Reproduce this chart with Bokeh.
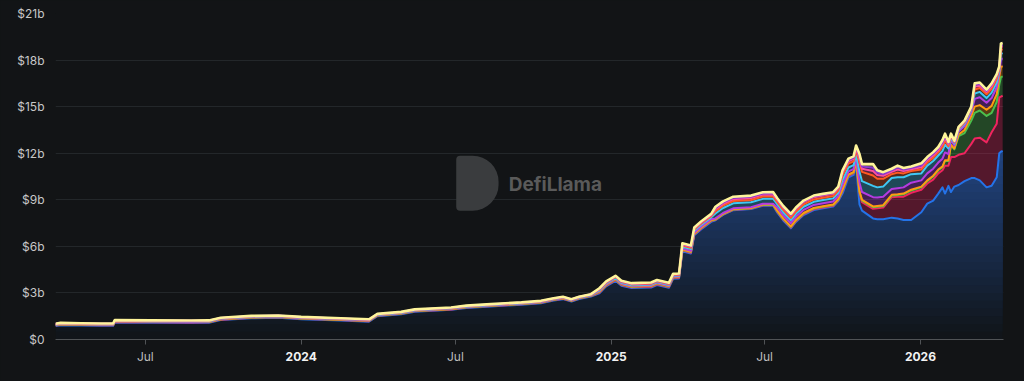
import numpy as np
import pandas as pd
from bokeh.plotting import figure
from bokeh.models import Range1d, FixedTicker, LinearAxis, Label, BoxAnnotation
from bokeh.embed import file_html
from bokeh.resources import INLINE

# ---------------- data (values in $ billions) ----------------
dates = [
    "2023-03-17", "2023-03-23", "2023-04-16", "2023-05-10", "2023-05-24", "2023-05-26", "2023-07-08",
    "2023-08-24", "2023-09-14", "2023-09-28", "2023-11-03", "2023-12-05", "2024-01-01", "2024-02-17",
    "2024-03-21", "2024-03-31", "2024-04-28", "2024-05-14", "2024-06-26", "2024-07-14", "2024-08-12",
    "2024-09-17", "2024-10-10", "2024-10-25", "2024-11-05", "2024-11-15", "2024-11-24", "2024-12-08",
    "2024-12-18", "2024-12-26", "2025-01-06", "2025-01-13", "2025-01-25", "2025-02-17", "2025-02-24",
    "2025-03-10", "2025-03-15", "2025-03-22", "2025-03-26", "2025-04-05", "2025-04-09", "2025-04-17",
    "2025-04-29", "2025-05-04", "2025-05-13", "2025-05-25", "2025-06-15", "2025-06-29", "2025-07-11",
    "2025-07-16", "2025-07-23", "2025-08-01", "2025-08-07", "2025-08-16", "2025-08-28", "2025-09-08",
    "2025-09-20", "2025-09-26", "2025-10-01", "2025-10-08", "2025-10-14", "2025-10-17", "2025-10-21",
    "2025-10-24", "2025-11-06", "2025-11-11", "2025-11-18", "2025-11-28", "2025-12-05", "2025-12-12",
    "2025-12-21", "2026-01-02", "2026-01-09", "2026-01-16", "2026-01-22", "2026-01-27", "2026-01-30",
    "2026-02-03", "2026-02-06", "2026-02-10", "2026-02-15", "2026-02-22", "2026-03-02", "2026-03-06",
    "2026-03-12", "2026-03-20", "2026-03-26", "2026-04-01", "2026-04-04", "2026-04-06", "2026-04-08",
]

s_blue = [
    0.87, 0.92, 0.90, 0.88, 0.88, 1.10, 1.08, 1.07, 1.08, 1.25, 1.37, 1.40, 1.31, 1.22,
    1.15, 1.50, 1.63, 1.79, 1.91, 2.03, 2.13, 2.24, 2.34, 2.51, 2.60, 2.45, 2.61, 2.77,
    2.98, 3.42, 3.78, 3.46, 3.31, 3.35, 3.51, 3.33, 3.91, 3.93, 5.69, 5.54, 6.71, 7.09,
    7.58, 7.68, 8.03, 8.33, 8.40, 8.62, 8.63, 8.17, 7.67, 7.16, 7.57, 8.02, 8.34, 8.45,
    8.56, 8.92, 9.40, 10.45, 10.60, 11.30, 8.70, 8.30, 7.80, 7.75, 7.75, 7.85, 7.80, 7.70,
    7.70, 8.20, 8.75, 8.95, 9.40, 9.80, 9.40, 9.90, 9.50, 9.85, 9.95, 10.20, 10.40, 10.40,
    10.25, 9.80, 9.90, 10.45, 12.00, 12.10, 12.15,
]
s_crimson = [0.03] * 28 + [0.05] * 10 + [0.05] * 5 + [0.03] * 6 + [0.05] * 9 + [
    0.15, 0.10, 0.10, 0.10, 0.70, 0.55, 0.62, 0.70, 0.75, 1.32, 1.40, 1.50, 1.75, 1.45,
    1.30, 1.35, 1.30, 1.10, 1.80, 1.30, 2.25, 1.90, 1.95, 1.80, 2.20, 2.55, 2.75, 2.90,
    3.45, 3.45, 3.60, 3.55, 3.55,
]
s_green = [0.02] * 28 + [0.04] * 10 + [0.04] * 5 + [0.02] * 6 + [0.05] * 9 + [
    0.08, 0.05, 0.05, 0.05, 0.10, 0.10, 0.10, 0.10, 0.10, 0.10, 0.10, 0.15, 0.15, 0.15,
    0.15, 0.20, 0.20, 0.20, 0.30, 0.30, 0.75, 0.50, 1.20, 1.30, 1.50, 1.65, 1.75, 1.70,
    1.25, 1.40, 0.80, 1.25, 1.25,
]
s_orange = [0.01] * 28 + [0.02] * 10 + [0.02] * 5 + [0.02] * 6 + [0.03] * 9 + [
    0.04, 0.03, 0.03, 0.03, 0.05, 0.05, 0.05, 0.05, 0.05, 0.05, 0.05, 0.05, 0.05, 0.05,
    0.05, 0.05, 0.05, 0.05, 0.05, 0.05, 0.05, 0.05, 0.10, 0.20, 0.30, 0.40, 0.35, 0.40,
    0.45, 0.50, 0.50, 0.66, 0.65,
]
s_purple = [0.02] * 28 + [0.04] * 10 + [0.06] * 5 + [0.05] * 6 + [0.20] * 9 + [
    0.30, 0.20, 0.20, 0.20, 0.55, 0.50, 0.60, 0.55, 0.55, 0.38, 0.40, 0.40, 0.45, 0.40,
    0.45, 0.45, 0.45, 0.50, 0.50, 0.40, 0.30, 0.20, 0.20, 0.25, 0.25, 0.50, 0.50, 0.45,
    0.50, 0.45, 0.25, 0.50, 0.50,
]
s_cyan = [0.02] * 28 + [0.04] * 10 + [0.12] * 5 + [0.32] * 6 + [0.20] * 9 + [
    0.30, 0.25, 0.25, 0.25, 0.70, 0.70, 0.73, 0.65, 0.65, 0.70, 0.70, 0.65, 0.55, 0.45,
    0.50, 0.50, 0.45, 0.50, 0.50, 0.35, 0.15, 0.12, 0.12, 0.15, 0.15, 0.35, 0.35, 0.30,
    0.35, 0.30, 0.15, 0.35, 0.35,
]
s_orangered = [0.02] * 28 + [0.05] * 10 + [0.08] * 5 + [0.15] * 6 + [0.15] * 9 + [
    0.30, 0.25, 0.25, 0.25, 0.60, 0.60, 0.66, 0.55, 0.50, 0.25, 0.30, 0.25, 0.20, 0.25,
    0.20, 0.20, 0.20, 0.25, 0.25, 0.15, 0.10, 0.07, 0.07, 0.08, 0.08, 0.25, 0.25, 0.25,
    0.25, 0.25, 0.12, 0.25, 0.25,
]
s_pink = [0.01] * 28 + [0.03] * 10 + [0.06] * 5 + [0.12] * 6 + [0.15] * 9 + [
    0.20, 0.15, 0.15, 0.15, 0.25, 0.20, 0.30, 0.25, 0.20, 0.15, 0.20, 0.15, 0.12, 0.15,
    0.15, 0.15, 0.15, 0.20, 0.20, 0.12, 0.06, 0.05, 0.05, 0.05, 0.05, 0.20, 0.15, 0.15,
    0.15, 0.15, 0.08, 0.18, 0.18,
]
s_violet = [0.01] * 28 + [0.02] * 10 + [0.04] * 5 + [0.08] * 6 + [0.05] * 9 + [
    0.07, 0.07, 0.07, 0.07, 0.15, 0.15, 0.20, 0.15, 0.10, 0.10, 0.12, 0.10, 0.08, 0.10,
    0.10, 0.10, 0.10, 0.10, 0.10, 0.07, 0.05, 0.03, 0.03, 0.03, 0.03, 0.10, 0.10, 0.07,
    0.10, 0.07, 0.05, 0.10, 0.10,
]
s_yellow = [0.01] * 28 + [0.03] * 10 + [0.04] * 5 + [0.08] * 6 + [0.05] * 9 + [
    0.06, 0.10, 0.10, 0.10, 0.15, 0.15, 0.24, 0.15, 0.13, 0.10, 0.13, 0.10, 0.10, 0.15,
    0.10, 0.12, 0.10, 0.15, 0.16, 0.08, 0.05, 0.03, 0.03, 0.04, 0.04, 0.10, 0.10, 0.08,
    0.10, 0.08, 0.05, 0.13, 0.12,
]

stack_series = [s_crimson, s_green, s_orange, s_purple, s_cyan, s_orangered, s_pink, s_violet, s_yellow]
stack_colors = ["#f0245f", "#4cbf4c", "#ff9a10", "#b43ce0", "#3fc8f4", "#ff5a22", "#ff4f9e", "#8a3ad0", "#fff59a"]

y_ticks = [0, 3, 6, 9, 12, 15, 18, 21]
y_tick_labels = ["$0", "$3b", "$6b", "$9b", "$12b", "$15b", "$18b", "$21b"]
x_tick_dates = ["2023-07-01", "2024-01-01", "2024-07-01", "2025-01-01", "2025-07-01", "2026-01-01"]
x_tick_labels = ["Jul", "2024", "Jul", "2025", "Jul", "2026"]
x_start, x_end = "2023-03-17", "2026-04-09"


def ms(d):
    return (pd.to_datetime(pd.Series(d)) - pd.Timestamp("1970-01-01")) // pd.Timedelta("1ms")


BG = "#121416"
xs = ms(dates).astype(float).values
tick_ms = [float(v) for v in ms(x_tick_dates)]
x0, x1 = [float(v) for v in ms([x_start, x_end])]

p = figure(width=1024, height=381, output_backend="svg", toolbar_location=None,
           x_range=Range1d(x0, x1), y_range=Range1d(0, 21),
           background_fill_color=BG, border_fill_color=BG,
           min_border_left=55, min_border_right=21, min_border_top=13, min_border_bottom=42)
p.outline_line_color = None
p.xgrid.visible = False
p.ygrid.ticker = FixedTicker(ticks=y_ticks)
p.ygrid.grid_line_color = "#23272a"
p.ygrid.grid_line_width = 1

# y axis
p.yaxis.ticker = FixedTicker(ticks=y_ticks)
p.yaxis.major_label_overrides = {t: l for t, l in zip(y_ticks, y_tick_labels)}
p.yaxis.axis_line_color = None
p.yaxis.major_tick_line_color = None
p.yaxis.minor_tick_line_color = None
p.yaxis.major_tick_out = 0
p.yaxis.major_tick_in = 0
p.yaxis.major_label_standoff = 11
p.yaxis.major_label_text_color = "#c8c8c8"
p.yaxis.major_label_text_font = "Inter"
p.yaxis.major_label_text_font_size = "12px"

# x axis: months (light) on main axis, years (bold) on a second axis
month_over = {}
year_over = {}
year_ticks = []
for t, l in zip(tick_ms, x_tick_labels):
    if l.isdigit():
        month_over[t] = " "
        year_over[t] = l
        year_ticks.append(t)
    else:
        month_over[t] = l
xa = p.xaxis[0]
xa.ticker = FixedTicker(ticks=tick_ms)
xa.major_label_overrides = month_over
xa.axis_line_color = "#505356"
xa.major_tick_line_color = "#505356"
xa.minor_tick_line_color = None
xa.major_tick_out = 5
xa.major_tick_in = 0
xa.major_label_standoff = 4
xa.major_label_text_color = "#bdbdbd"
xa.major_label_text_font = "Inter"
xa.major_label_text_font_size = "12px"

ya2 = LinearAxis(ticker=FixedTicker(ticks=year_ticks), major_label_overrides=year_over,
                 axis_line_color=None, major_tick_line_color=None, minor_tick_line_color=None,
                 major_tick_out=0, major_tick_in=0, major_label_standoff=-15,
                 major_label_text_color="#f2f2f2", major_label_text_font="Inter",
                 major_label_text_font_style="bold", major_label_text_font_size="12px")
p.add_layout(ya2, "below")

# blue area with vertical gradient (stepped layers)
blue = np.array(s_blue)
for h in np.arange(0, 12.01, 0.5):
    col = "#%02x%02x%02x" % (int(17 + 1.4 * h), int(21 + 4.0 * h), int(26 + 8.75 * h))
    p.varea(x=xs, y1=np.minimum(blue, h), y2=blue, fill_color=col, fill_alpha=1)

# stacked bands
cum = blue.copy()
tops = []
for vals, col in zip(stack_series, stack_colors):
    top = cum + np.array(vals)
    p.varea(x=xs, y1=cum, y2=top, fill_color=col, fill_alpha=0.3)
    tops.append(top)
    cum = top

p.line(xs, blue, line_color="#2473e8", line_width=2, line_join="round")
for top, col in zip(tops, stack_colors):
    lw = 2.6 if col == "#fff59a" else 2
    p.line(xs, top, line_color=col, line_width=lw, line_join="round")

# watermark
p.add_layout(BoxAnnotation(left=float(ms(["2024-07-02"])[0]), right=float(ms(["2024-08-21"])[0]),
                           bottom=8.3, top=11.84, fill_color="#3a3c3e", fill_alpha=1,
                           line_color=None, border_radius=(4, 26, 26, 4), level="underlay"))
p.add_layout(Label(x=float(ms(["2024-09-02"])[0]), y=10.0, text="DefiLlama", text_font="Inter",
                   text_font_size="19px", text_font_style="bold", text_color="#5a5a5a",
                   text_baseline="middle", text_align="left", level="underlay"))

html = file_html(p, INLINE)
html = html.replace("</head>", "<style>html,body{background:#121416;}</style></head>", 1)
open("out.html", "w").write(html)
